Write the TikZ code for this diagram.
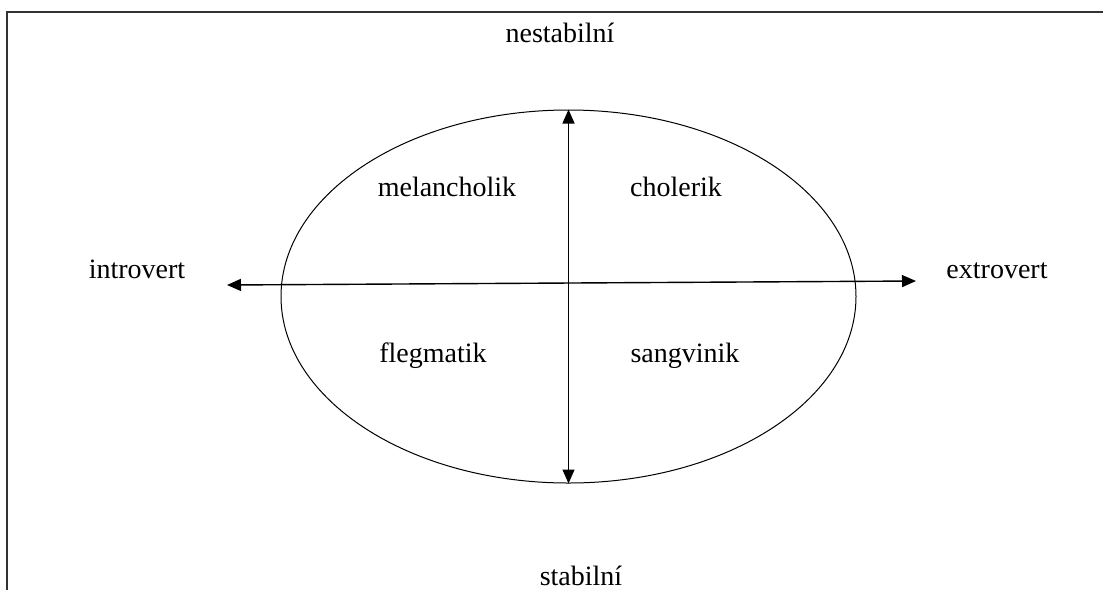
\documentclass[tikz,border=0pt]{standalone}
\usepackage{fontspec}
\setmainfont{Liberation Serif}
\usetikzlibrary{arrows.meta,shapes.geometric}
\tikzset{
  lbl/.style={anchor=base, inner sep=0pt, font=\fontsize{14}{17}\selectfont},
  axis/.style={line width=0.7pt, {Triangle[length=7pt,width=6pt]}-{Triangle[length=7pt,width=6pt]}},
  frame/.style={line width=1pt, draw=black!80},
  oval/.style={ellipse, draw, line width=0.5pt, inner sep=0pt, minimum width=287.5pt, minimum height=186.5pt}
}
\begin{document}
\begin{tikzpicture}[x=0.5pt,y=-0.5pt]
\useasboundingbox (0,0) rectangle (1103,590);
% frame (top and left only)
\coordinate (fTR) at (1103,12);
\coordinate (fTL) at (7,12);
\coordinate (fBL) at (7,590);
\draw[frame] (fTR) -- (fTL) -- (fBL);
% ellipse
\node[oval] (ell) at (568.5,296.5) {};
% axes
\draw[axis] (ell.south) -- (ell.north);
\coordinate (W) at (227,285);
\coordinate (E) at (916,281);
\draw[axis] (W) -- (E);
% labels
\node[lbl] (nest) at (560,42) {nestabilní};
\node[lbl] (stab) at (581,585) {stabilní};
\node[lbl] (intro) at (137,278) {introvert};
\node[lbl] (extro) at (997,278) {extrovert};
\node[lbl] (mel) at (447,196) {melancholik};
\node[lbl] (chol) at (676,196) {cholerik};
\node[lbl] (fleg) at (433,362) {flegmatik};
\node[lbl] (sang) at (685,362) {sangvinik};
\end{tikzpicture}
\end{document}
